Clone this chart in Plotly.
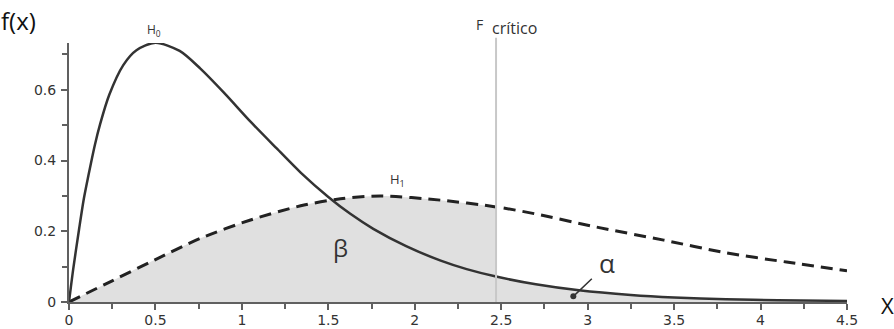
import plotly.graph_objects as go

# H0 curve (solid)
h0_x = [0, 0.025, 0.058, 0.085, 0.112, 0.15, 0.18, 0.233, 0.314, 0.39, 0.5, 0.64, 0.76,
        0.9, 1.05, 1.2, 1.34, 1.5, 1.625, 1.76, 1.95, 2.15, 2.3, 2.47, 2.7, 2.95, 3.25,
        3.5, 3.8, 4.1, 4.5]
h0_y = [0, 0.095, 0.205, 0.29, 0.357, 0.445, 0.503, 0.586, 0.67, 0.712, 0.733, 0.71, 0.66,
        0.59, 0.51, 0.435, 0.366, 0.297, 0.25, 0.207, 0.158, 0.117, 0.093, 0.072, 0.050, 0.033, 0.020,
        0.013, 0.008, 0.005, 0.003]

# H1 curve (dashed)
h1_x = [0, 0.25, 0.5, 0.76, 1.05, 1.34, 1.57, 1.8, 2.15, 2.47, 2.69, 3.05, 3.44, 3.8, 4.15, 4.5]
h1_y = [0, 0.06, 0.12, 0.180, 0.232, 0.272, 0.292, 0.300, 0.288, 0.269, 0.250, 0.212, 0.175, 0.139, 0.113, 0.088]

f_critico = 2.47

x_ticks = [0, 0.5, 1, 1.5, 2, 2.5, 3, 3.5, 4, 4.5]
x_labels = ["0", "0.5", "1", "1.5", "2", "2.5", "3", "3.5", "4", "4.5"]
y_ticks = [0, 0.2, 0.4, 0.6]
y_labels = ["0", "0.2", "0.4", "0.6"]

fill_col = "#e0e0e0"
axis_col = "#606060"

beta_x = [x for x in h1_x if x <= f_critico]
beta_y = [y for x, y in zip(h1_x, h1_y) if x <= f_critico]
alpha_x = [x for x in h0_x if x >= f_critico]
alpha_y = [y for x, y in zip(h0_x, h0_y) if x >= f_critico]

fig = go.Figure()
fig.add_trace(go.Scatter(x=beta_x, y=beta_y, mode="lines", fill="tozeroy",
                         fillcolor=fill_col, line=dict(width=0, shape="spline", smoothing=0.8),
                         hoverinfo="skip", showlegend=False))
fig.add_trace(go.Scatter(x=alpha_x, y=alpha_y, mode="lines", fill="tozeroy",
                         fillcolor=fill_col, line=dict(width=0, shape="spline", smoothing=0.8),
                         hoverinfo="skip", showlegend=False))
fig.add_trace(go.Scatter(x=h1_x, y=h1_y, mode="lines",
                         line=dict(color="#222222", width=3, dash="12px,7px", shape="spline", smoothing=0.8),
                         showlegend=False))
fig.add_trace(go.Scatter(x=h0_x, y=h0_y, mode="lines",
                         line=dict(color="#333333", width=2.5, shape="spline", smoothing=0.8),
                         showlegend=False))

fig.add_shape(type="line", xref="x", yref="paper", x0=f_critico, x1=f_critico,
              y0=0, y1=1.02, line=dict(color="#c8c8c8", width=2), layer="above")

fig.update_layout(
    width=894, height=329,
    margin=dict(l=69, r=47, t=43, b=27, autoexpand=False),
    paper_bgcolor="white", plot_bgcolor="white",
    font=dict(family="DejaVu Sans", size=14, color="#333333"),
)
fig.update_xaxes(range=[0, 4.5], tickvals=x_ticks, ticktext=x_labels, automargin=False,
                 showgrid=False, zeroline=False, showline=True, linecolor=axis_col,
                 linewidth=2, ticks="outside", ticklen=6, tickwidth=1.5, tickcolor=axis_col,
                 ticklabelstandoff=-2,
                 minor=dict(dtick=0.25, ticks="outside", ticklen=5, tickwidth=1.5, tickcolor=axis_col, showgrid=False),
                 tickfont=dict(size=14, color="#333333"))
fig.update_yaxes(range=[0, 0.7325], tickvals=y_ticks, ticktext=y_labels, automargin=False,
                 showgrid=False, zeroline=False, showline=True, linecolor=axis_col,
                 linewidth=2, ticks="outside", ticklen=6, tickwidth=1.5, tickcolor=axis_col,
                 ticklabelstandoff=2,
                 minor=dict(tick0=0, dtick=0.1, ticks="outside", ticklen=5, tickwidth=1.5, tickcolor=axis_col, showgrid=False),
                 tickfont=dict(size=14, color="#333333"))

txt = "Open Sans"
ann = [
    dict(text="f(x)", xref="paper", yref="paper", x=-0.0655, y=1.085, showarrow=False,
         font=dict(family=txt, size=24, color="#111111"), xanchor="center", yanchor="middle"),
    dict(text="X", xref="paper", yref="paper", x=1.052, y=-0.01, showarrow=False,
         font=dict(family=txt, size=22, color="#111111"), xanchor="center", yanchor="middle"),
    dict(text="H<sub>0</sub>", xref="x", yref="paper", x=0.49, y=1.05, showarrow=False,
         font=dict(family=txt, size=12, color="#333333"), xanchor="center", yanchor="middle"),
    dict(text="F", xref="x", yref="paper", x=2.377, y=1.072, showarrow=False,
         font=dict(family=txt, size=14, color="#333333"), xanchor="center", yanchor="middle"),
    dict(text="crítico", xref="x", yref="paper", x=2.574, y=1.056, showarrow=False,
         font=dict(family=txt, size=16, color="#333333"), xanchor="center", yanchor="middle"),
    dict(text="H<sub>1</sub>", xref="x", yref="y", x=1.9, y=0.345, showarrow=False,
         font=dict(family=txt, size=13, color="#333333"), xanchor="center", yanchor="middle"),
    dict(text="β", xref="x", yref="y", x=1.57, y=0.155, showarrow=False,
         font=dict(family=txt, size=24, color="#333333"), xanchor="center", yanchor="middle"),
    dict(text="α", xref="x", yref="y", x=3.11, y=0.11, showarrow=False,
         font=dict(family=txt, size=26, color="#333333"), xanchor="center", yanchor="middle"),
    dict(text="", xref="x", yref="y", x=2.917, y=0.016, ax=20, ay=-19, showarrow=True,
         arrowhead=6, arrowsize=1, arrowwidth=1.5, arrowcolor="#333333", startstandoff=0, standoff=0),
]
fig.update_layout(annotations=ann)

fig.write_html("out.html", config={"displayModeBar": False},
               post_script="document.body.style.margin='0';document.body.style.overflow='hidden';")
